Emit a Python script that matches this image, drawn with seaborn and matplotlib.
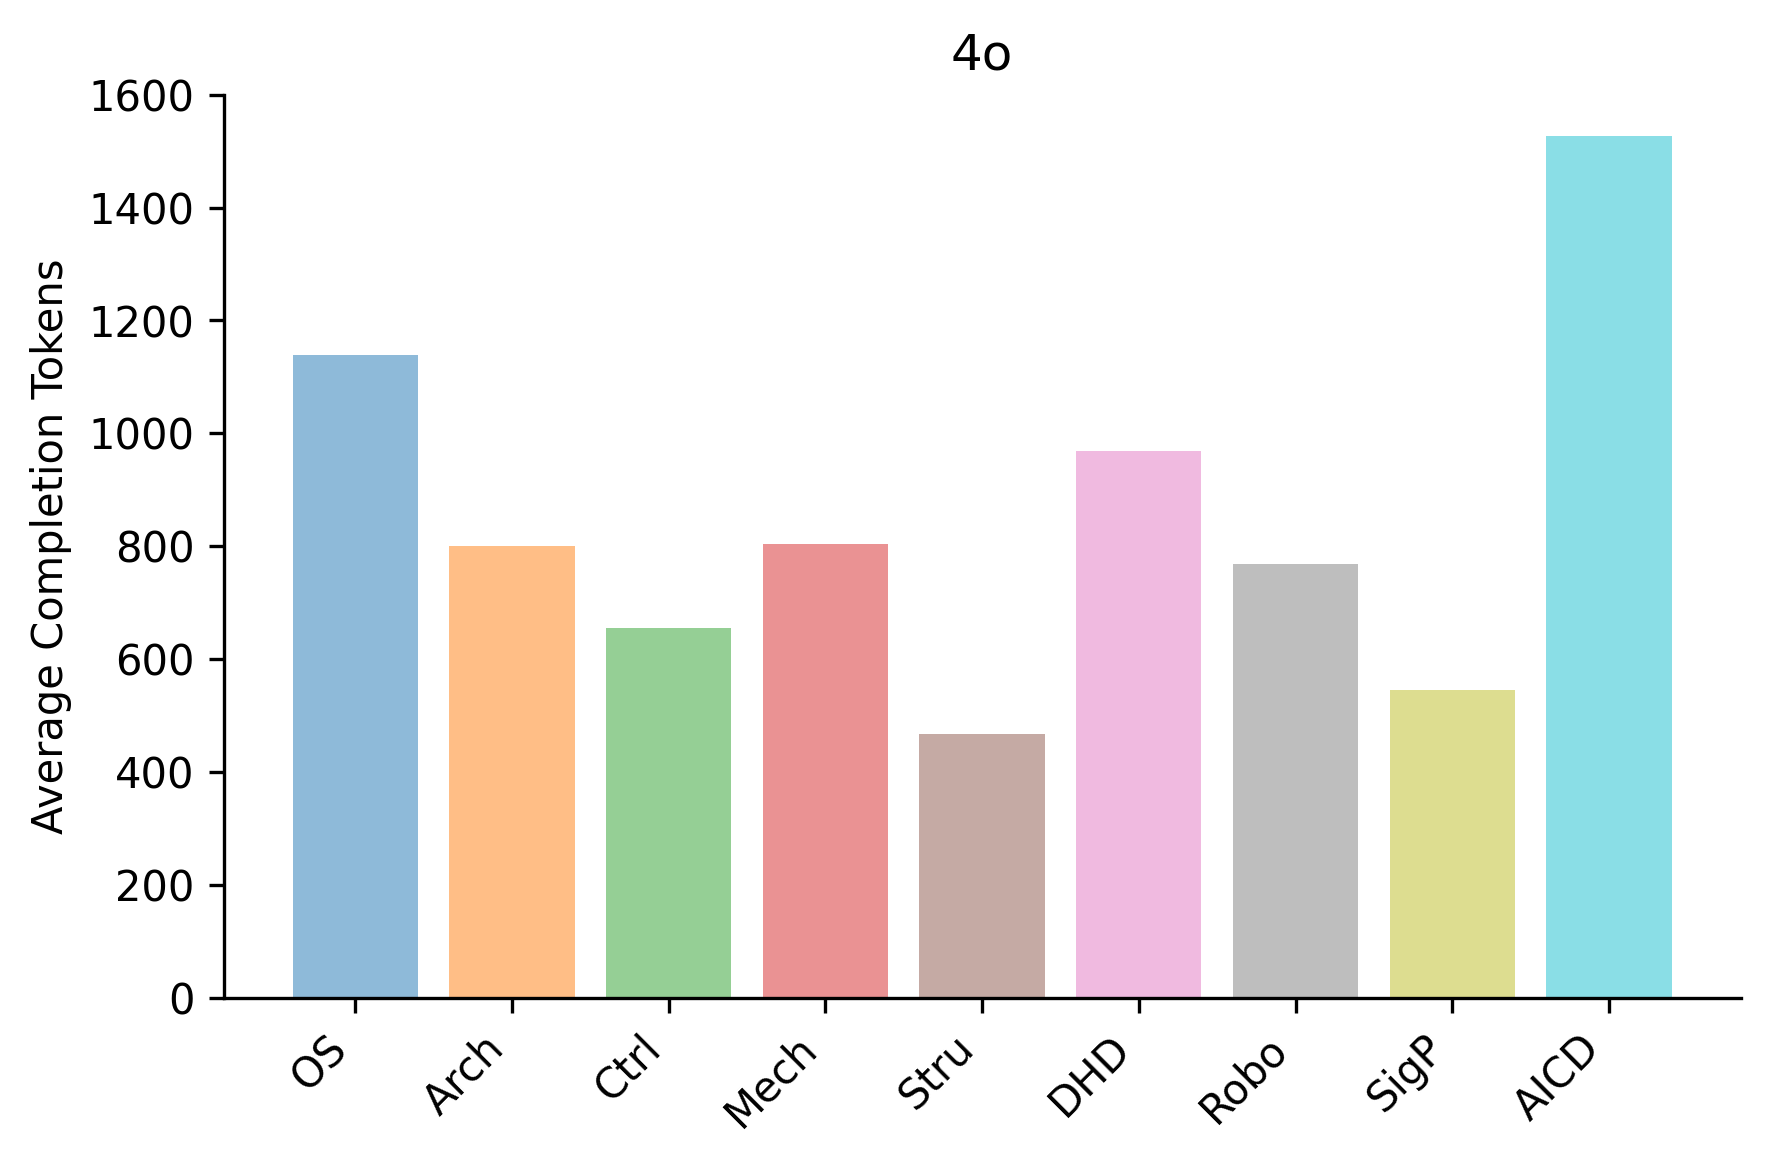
import matplotlib
matplotlib.use("Agg")
import matplotlib.pyplot as plt
import seaborn as sns
import pandas as pd

categories = ["OS", "Arch", "Ctrl", "Mech", "Stru", "DHD", "Robo", "SigP", "AICD"]
avg_tokens = [1138, 800, 656, 804, 468, 968, 768, 546, 1526]

df = pd.DataFrame({"domain": categories, "tokens": avg_tokens})

# tab10 without the purple one
tab = sns.color_palette("tab10", 10)
colors = [tab[i] for i in (0, 1, 2, 3, 5, 6, 7, 8, 9)]

plt.rcParams['font.family'] = ['DejaVu Sans']

fig, ax = plt.subplots(figsize=(5.9, 3.887), dpi=300)
fig.subplots_adjust(left=0.1263, right=0.9834, top=0.9187, bottom=0.1442)

sns.barplot(data=df, x="domain", y="tokens", hue="domain",
            palette=colors, saturation=1, alpha=0.5, width=0.8,
            linewidth=0, legend=False, ax=ax)

ax.set_xlim(-0.84, len(categories) - 1 + 0.84)
ax.set_ylim(0, 1600)
ax.set_title("4o", fontsize=12)
ax.set_xlabel("")
ax.set_ylabel("Average Completion Tokens", fontsize=10)
plt.setp(ax.get_xticklabels(), rotation=45, ha="right", fontsize=10)
plt.setp(ax.get_yticklabels(), fontsize=10)
sns.despine(ax=ax)

plt.savefig("out.png", dpi=300)
